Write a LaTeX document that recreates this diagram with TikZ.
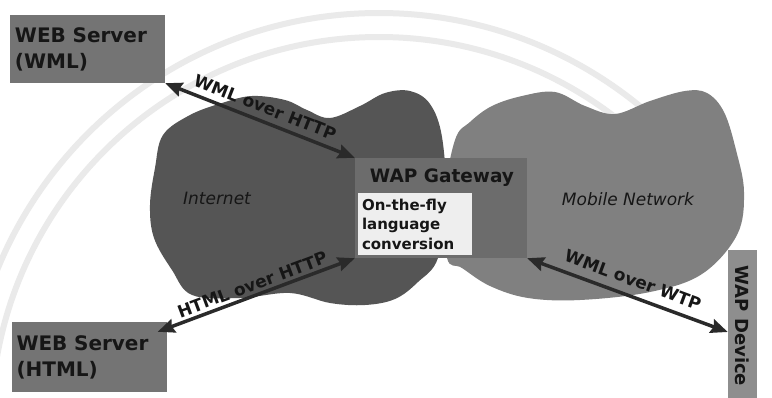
\documentclass[tikz,border=0pt]{standalone}
\usepackage{fontspec}
\setmainfont{DejaVu Sans}
\usetikzlibrary{arrows.meta,calc}
\definecolor{inetc}{HTML}{555555}
\definecolor{mobc}{HTML}{808080}
\definecolor{gwc}{HTML}{6C6C6C}
\definecolor{boxc}{HTML}{747474}
\definecolor{devc}{HTML}{8E8E8E}
\definecolor{ink}{HTML}{161616}
\definecolor{wmark}{HTML}{EAEAEA}
\definecolor{convc}{HTML}{EEEEEE}
\definecolor{arrc}{HTML}{2A2A2A}
\begin{document}
\begin{tikzpicture}[x=1pt,y=-1pt,
  srvbox/.style={draw=none, fill=boxc, minimum height=68pt, inner sep=5pt,
    text width=145pt, align=left, text=ink,
    font=\fontsize{20}{26}\selectfont\bfseries},
  gwbox/.style={draw=none, fill=gwc, minimum width=172pt, minimum height=100pt},
  gwtitle/.style={text=ink, inner sep=0pt, font=\fontsize{18.5}{22}\selectfont\bfseries},
  convbox/.style={fill=convc, text=ink, inner sep=4pt, text width=106pt, align=left,
    minimum height=62pt, font=\fontsize{15}{19.5}\selectfont\bfseries},
  devbox/.style={draw=none, fill=devc, minimum width=29pt, minimum height=150pt},
  devtext/.style={text=ink, rotate=-90, inner sep=0pt, font=\fontsize{18}{20}\selectfont\bfseries},
  cloudlabel/.style={text=ink, inner sep=0pt, font=\fontsize{17}{20}\selectfont\itshape},
  link/.style={draw=arrc, line width=3.5pt,
    {Stealth[length=17pt,width=14pt,inset=2pt]}-{Stealth[length=17pt,width=14pt,inset=2pt]}},
  linklabel/.style={text=ink, sloped, inner sep=1pt, font=\fontsize{17}{19}\selectfont\bfseries}
]
\useasboundingbox (0,0) rectangle (772,397);
\fill[white] (0,0) rectangle (772,397);
% faint watermark arcs
\begin{scope}
  \clip (0,0) rectangle (690,397);
  \draw[wmark, line width=6pt] (379,425) circle[radius=412];
  \draw[wmark, line width=6pt] (379,425) circle[radius=388];
\end{scope}
% clouds
\fill[mobc] plot[smooth cycle, tension=0.6] coordinates {(455,140) (470,122) (492,106) (522,96) (555,92) (585,106) (615,114) (650,101) (685,91) (707,93) (724,112) (736,150) (744,192) (737,235) (702,274) (650,292) (580,300) (528,298) (490,286) (462,268) (447,258) (444,200)};
\fill[inetc] plot[smooth cycle, tension=0.6] coordinates {(163,135) (190,115) (222,103) (252,96) (285,100) (307,110) (330,118) (360,106) (385,93) (410,91) (430,104) (442,137) (446,200) (438,258) (418,282) (395,299) (365,305) (330,303) (290,293) (240,298) (192,295) (172,270) (154,238) (150,205) (155,168)};
% gateway
\node[gwbox] (gw) at (441,208) {};
\node[gwtitle] (gwt) at (442,178) {WAP Gateway};
\node[convbox] (conv) at (415,224) {On-the-fly\\language\\conversion};
% servers and device
\node[srvbox] (ws1) at (87.5,49) {WEB Server\\(WML)};
\node[srvbox, minimum height=70pt] (ws2) at (89,357) {WEB Server\\(HTML)};
\node[devbox] (dev) at (742.5,325) {};
\node[devtext] (devt) at (742.5,326) {WAP Device};
% cloud labels
\node[cloudlabel] (inet) at (217,198) {Internet};
\node[cloudlabel] (mob) at (628,199) {Mobile Network};
% links
\draw[link] (ws1.south east) -- node[linklabel, above=5pt] {WML over HTTP} (gw.north west);
\draw[link] ([xshift=-9pt,yshift=-10pt]ws2.north east) -- node[linklabel, above=2pt] {HTML over HTTP} (gw.south west);
\draw[link] (gw.south east) -- node[linklabel, above=7pt] {WML over WTP} ([yshift=-7pt]dev.west);
\end{tikzpicture}
\end{document}
